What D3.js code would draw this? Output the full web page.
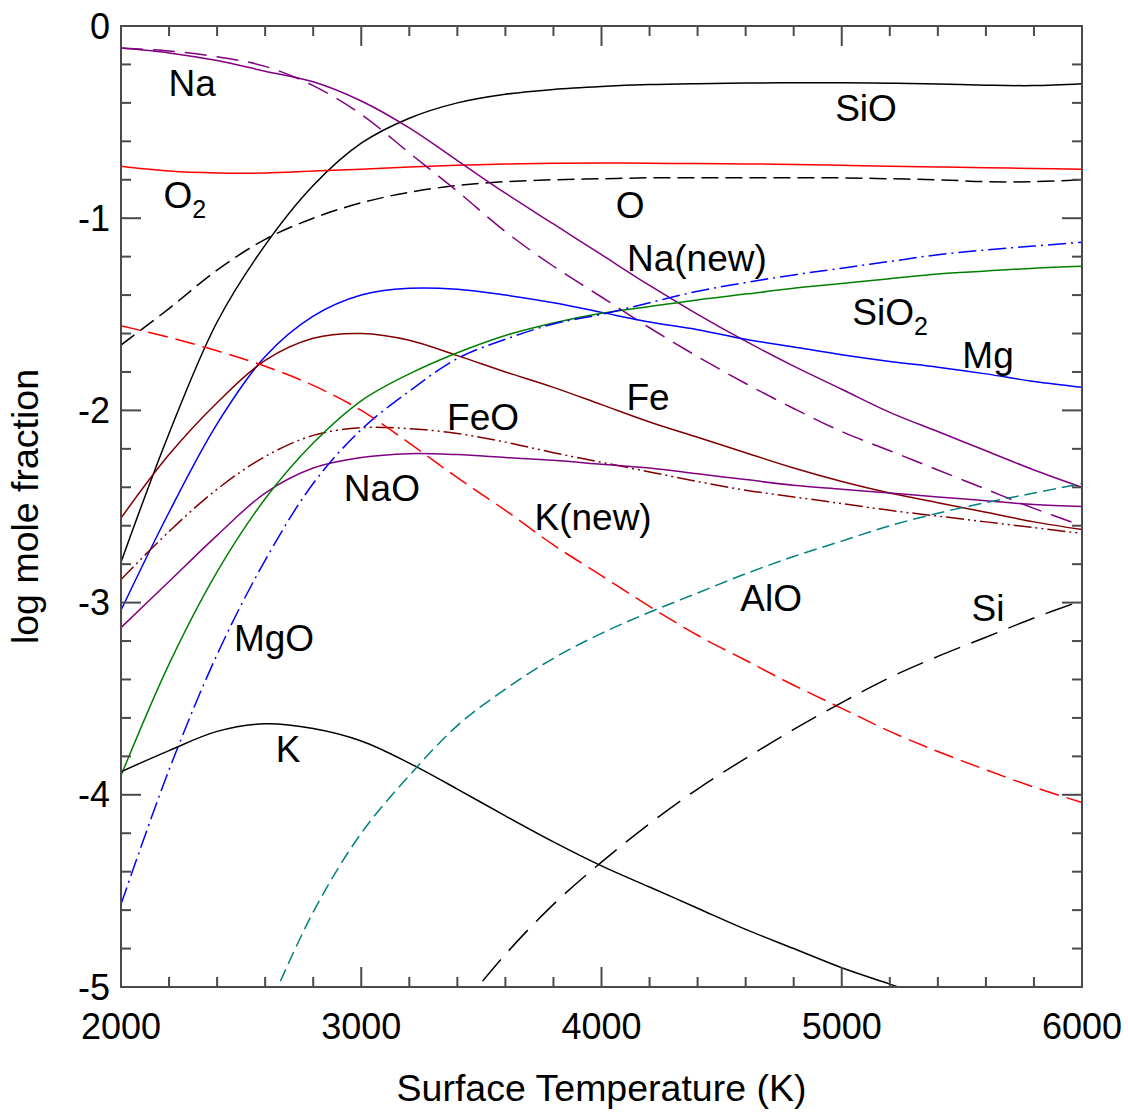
<!DOCTYPE html>
<html>
<head>
<meta charset="utf-8">
<script src="https://cdn.jsdelivr.net/npm/d3@7"></script>
<style>
  html, body { margin: 0; padding: 0; background: #fff; }
  text { font-family: "Liberation Sans", Arial, sans-serif; }
</style>
</head>
<body>
<svg id="chart" width="1128" height="1114"></svg>
<script>
// ---------------- data ----------------
const temps = [2000,2200,2400,2600,2800,3000,3200,3400,3600,3800,4000,4200,4400,4600,4800,5000,5200,5400,5600,5800,6000];

const SiO    = [-2.79,-2.12,-1.54,-1.14,-0.83,-0.61,-0.48,-0.40,-0.355,-0.33,-0.315,-0.305,-0.30,-0.297,-0.295,-0.295,-0.298,-0.302,-0.308,-0.31,-0.30];
const O      = [-1.66,-1.47,-1.27,-1.11,-1.00,-0.92,-0.865,-0.83,-0.81,-0.80,-0.795,-0.79,-0.79,-0.79,-0.79,-0.79,-0.795,-0.80,-0.81,-0.81,-0.80];
const O2     = [-0.73,-0.755,-0.765,-0.765,-0.755,-0.745,-0.733,-0.725,-0.718,-0.714,-0.713,-0.714,-0.716,-0.718,-0.72,-0.725,-0.73,-0.733,-0.737,-0.741,-0.745];
const Na     = [-0.115,-0.14,-0.18,-0.235,-0.29,-0.39,-0.53,-0.70,-0.87,-1.03,-1.19,-1.35,-1.50,-1.64,-1.77,-1.89,-2.01,-2.11,-2.21,-2.31,-2.40];
const NaNew  = [-0.115,-0.13,-0.16,-0.21,-0.31,-0.46,-0.66,-0.86,-1.07,-1.25,-1.41,-1.57,-1.72,-1.86,-1.99,-2.11,-2.21,-2.31,-2.41,-2.51,-2.60];
const Mg     = [-3.04,-2.53,-2.07,-1.72,-1.51,-1.40,-1.365,-1.37,-1.40,-1.44,-1.49,-1.54,-1.58,-1.63,-1.67,-1.71,-1.745,-1.775,-1.81,-1.85,-1.88];
const Fe     = [-2.56,-2.23,-1.96,-1.74,-1.625,-1.60,-1.635,-1.715,-1.80,-1.88,-1.97,-2.06,-2.14,-2.22,-2.30,-2.37,-2.43,-2.48,-2.53,-2.58,-2.62];
const FeO    = [-2.88,-2.63,-2.41,-2.24,-2.13,-2.09,-2.095,-2.12,-2.165,-2.22,-2.27,-2.32,-2.37,-2.415,-2.45,-2.485,-2.52,-2.55,-2.58,-2.61,-2.64];
const NaO    = [-3.13,-2.89,-2.65,-2.43,-2.30,-2.245,-2.225,-2.23,-2.245,-2.26,-2.28,-2.30,-2.33,-2.36,-2.39,-2.41,-2.43,-2.45,-2.47,-2.49,-2.50];
const SiO2   = [-3.90,-3.32,-2.84,-2.46,-2.17,-1.95,-1.81,-1.70,-1.61,-1.545,-1.495,-1.46,-1.425,-1.395,-1.365,-1.34,-1.315,-1.29,-1.275,-1.26,-1.25];
const MgO    = [-4.57,-3.87,-3.27,-2.78,-2.38,-2.10,-1.90,-1.73,-1.63,-1.55,-1.50,-1.44,-1.38,-1.335,-1.295,-1.26,-1.225,-1.19,-1.165,-1.145,-1.125];
const KNew   = [-1.56,-1.62,-1.69,-1.77,-1.87,-2.00,-2.17,-2.35,-2.52,-2.70,-2.86,-3.02,-3.17,-3.30,-3.43,-3.55,-3.67,-3.775,-3.87,-3.96,-4.04];
const K      = [-3.88,-3.77,-3.67,-3.63,-3.655,-3.72,-3.835,-3.97,-4.11,-4.245,-4.37,-4.48,-4.59,-4.70,-4.80,-4.90,-4.985,-5.07,null,null,null];
const AlO    = [null,null,null,-5.15,-4.61,-4.20,-3.90,-3.64,-3.45,-3.29,-3.16,-3.05,-2.95,-2.85,-2.76,-2.68,-2.60,-2.535,-2.48,-2.43,-2.38];
const Si     = [null,null,null,null,null,null,null,-5.13,-4.83,-4.57,-4.35,-4.15,-3.97,-3.81,-3.66,-3.52,-3.39,-3.28,-3.18,-3.08,-2.99];

const xTickValues = [2000,3000,4000,5000,6000];
const yTickValues = [0,-1,-2,-3,-4,-5];

// label names and their anchor (temperature, log fraction) in data units
const labelNames = ["Na","O|2","SiO","O","Na(new)","SiO|2","Mg","Fe","FeO","NaO","K(new)","AlO","Si","MgO","K"];
const labelT     = [2296,2266,5101,4119,4397,5201,5609,4194,3507,3086,3965,4706,5609,2637,2695];
const labelV     = [-0.297,-0.88,-0.427,-0.93,-1.207,-1.488,-1.712,-1.93,-2.034,-2.404,-2.555,-2.976,-3.028,-3.184,-3.762];

// ---------------- styles ----------------
const seriesList = [
  {v: SiO,   color: "#000000", dash: null},
  {v: O,     color: "#000000", dash: "17,7"},
  {v: O2,    color: "#ff0000", dash: null},
  {v: Na,    color: "#800080", dash: null},
  {v: NaNew, color: "#800080", dash: "22,10"},
  {v: Mg,    color: "#0000ff", dash: null},
  {v: Fe,    color: "#800000", dash: null},
  {v: FeO,   color: "#800000", dash: "18,4,2,4,2,4"},
  {v: NaO,   color: "#800080", dash: null},
  {v: SiO2,  color: "#008000", dash: null},
  {v: MgO,   color: "#0000ff", dash: "18,5,2,5"},
  {v: KNew,  color: "#ff0000", dash: "20,8"},
  {v: K,     color: "#000000", dash: null},
  {v: AlO,   color: "#008080", dash: "13,6"},
  {v: Si,    color: "#000000", dash: "28,12"}
];

// ---------------- layout ----------------
const svg = d3.select("#chart");
const L = 121, R = 1082, T = 26, B = 987;
const x = d3.scaleLinear().domain([2000, 6000]).range([L, R]);
const y = d3.scaleLinear().domain([-5, 0]).range([B, T]);
const axisColor = "#4a4a4a";

svg.append("defs").append("clipPath").attr("id", "clip")
  .append("rect").attr("x", L).attr("y", T).attr("width", R - L).attr("height", B - T);

// lines
const plot = svg.append("g").attr("clip-path", "url(#clip)");
seriesList.forEach(s => {
  const pts = temps.map((t, i) => [t, s.v[i]]);
  const line = d3.line()
    .defined(d => d[1] !== null)
    .x(d => x(d[0])).y(d => y(d[1]))
    .curve(d3.curveCatmullRom.alpha(0.5));
  plot.append("path")
    .attr("d", line(pts))
    .attr("fill", "none")
    .attr("stroke", s.color)
    .attr("stroke-width", 1.5)
    .attr("stroke-dasharray", s.dash);
});

// frame & ticks (inward on all four sides)
const minorX = d3.range(2000, 6001, 200);
const minorY = d3.range(0, 26).map(i => -i * 0.2);
const tickG = svg.append("g").attr("stroke", axisColor).attr("stroke-width", 2);
function isMajor(v) { return Math.abs(v - Math.round(v)) < 1e-6; }
minorX.forEach(t => {
  const len = (t % 1000 === 0) ? 20 : 10;
  tickG.append("line").attr("x1", x(t)).attr("x2", x(t)).attr("y1", B).attr("y2", B - len);
  tickG.append("line").attr("x1", x(t)).attr("x2", x(t)).attr("y1", T).attr("y2", T + len);
});
minorY.forEach(v => {
  const len = isMajor(v) ? 20 : 10;
  tickG.append("line").attr("x1", L).attr("x2", L + len).attr("y1", y(v)).attr("y2", y(v));
  tickG.append("line").attr("x1", R).attr("x2", R - len).attr("y1", y(v)).attr("y2", y(v));
});
svg.append("rect").attr("x", L).attr("y", T).attr("width", R - L).attr("height", B - T)
  .attr("fill", "none").attr("stroke", axisColor).attr("stroke-width", 2);

// tick labels
const tickFs = 36, labelFs = 37, titleFs = 37.5;
svg.append("g").selectAll("text").data(xTickValues).join("text")
  .attr("x", d => x(d)).attr("y", B + 52)
  .attr("text-anchor", "middle").attr("font-size", tickFs).attr("fill", "#000")
  .text(d => d);
svg.append("g").selectAll("text").data(yTickValues).join("text")
  .attr("x", L - 11).attr("y", d => y(d) + 12.5)
  .attr("text-anchor", "end").attr("font-size", tickFs).attr("fill", "#000")
  .text(d => d === 0 ? "0" : "-" + Math.abs(d));

// axis titles
svg.append("text").attr("x", (L + R) / 2).attr("y", 1101)
  .attr("text-anchor", "middle").attr("font-size", titleFs).text("Surface Temperature (K)");
svg.append("text").attr("transform", `translate(38,${(T + B) / 2}) rotate(-90)`)
  .attr("text-anchor", "middle").attr("font-size", titleFs).text("log mole fraction");

// curve labels
labelNames.forEach((name, i) => {
  const parts = name.split("|");
  const t = svg.append("text")
    .attr("x", x(labelT[i])).attr("y", y(labelV[i]) + 13)
    .attr("text-anchor", "middle").attr("font-size", labelFs).attr("fill", "#000");
  t.append("tspan").text(parts[0]);
  if (parts[1]) {
    t.append("tspan").attr("font-size", 25).attr("dy", 10).text(parts[1]);
  }
});
</script>
</body>
</html>
